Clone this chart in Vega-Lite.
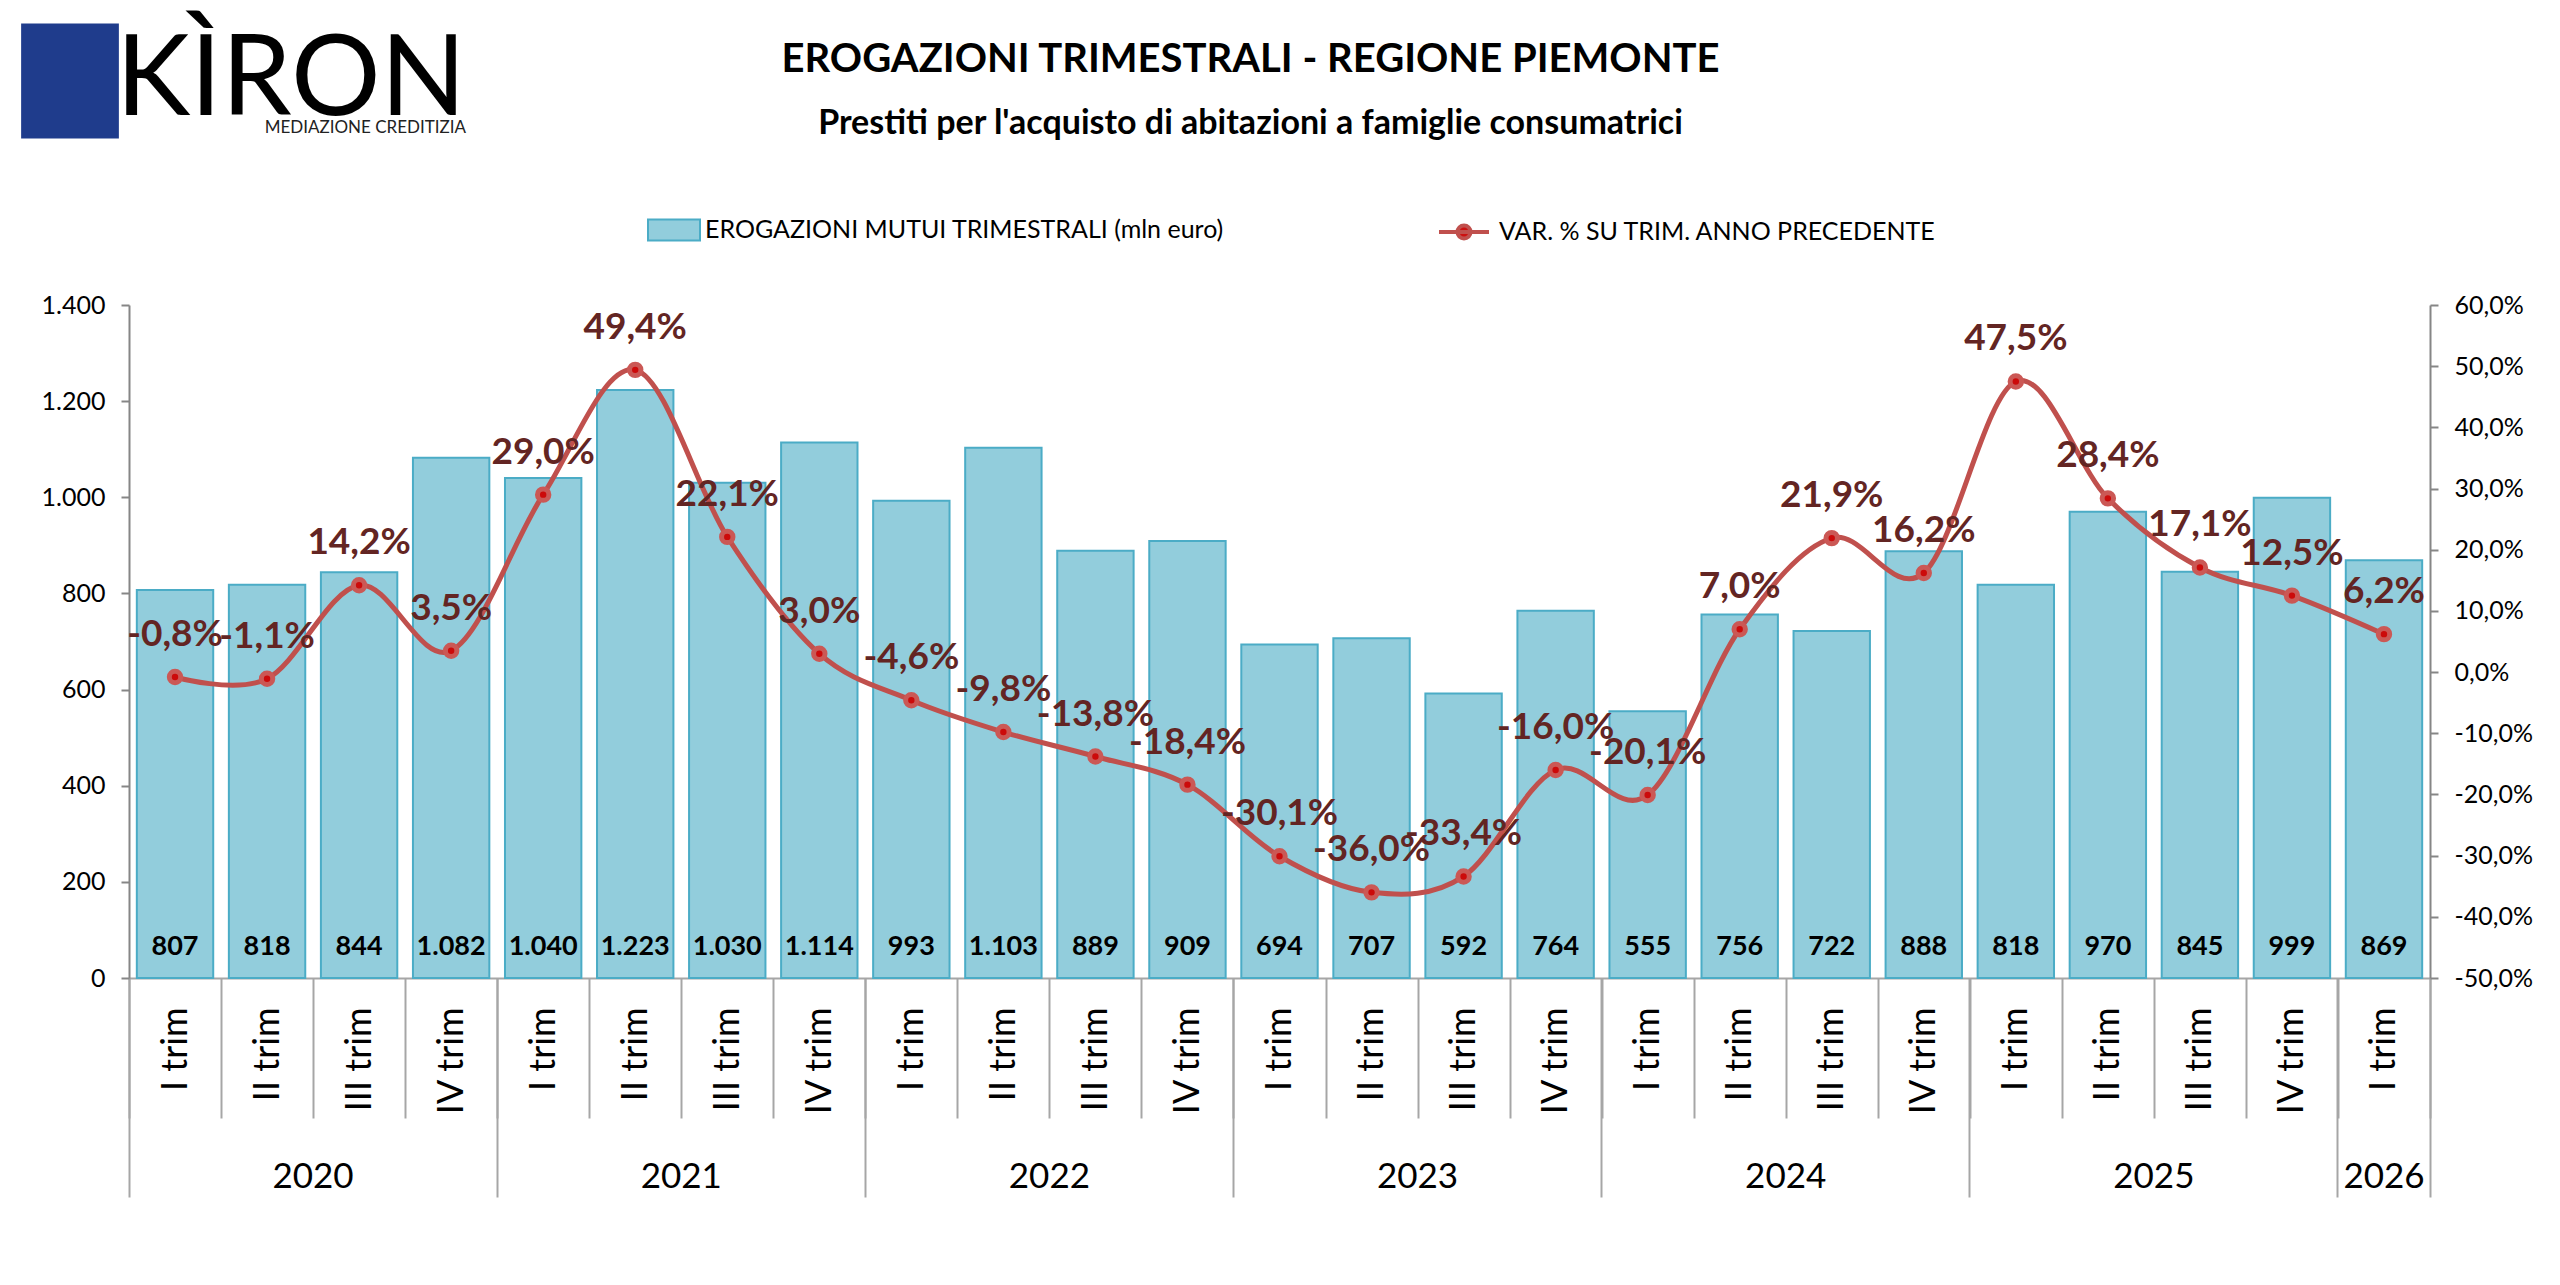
{
  "$schema": "https://vega.github.io/schema/vega-lite/v6.json",
  "width": 2301,
  "height": 673,
  "autosize": "none",
  "padding": {"left": 129, "top": 305, "right": 130, "bottom": 307},
  "background": "white",
  "title": {
    "text": "EROGAZIONI TRIMESTRALI - REGIONE PIEMONTE",
    "subtitle": "Prestiti per l'acquisto di abitazioni a famiglie consumatrici",
    "font": "Lato",
    "fontSize": 40,
    "fontWeight": "bold",
    "color": "#000000",
    "subtitleFont": "Lato",
    "subtitleFontSize": 34,
    "subtitleFontWeight": "bold",
    "subtitleColor": "#000000",
    "subtitlePadding": 27,
    "anchor": "middle",
    "frame": "group",
    "offset": -118,
    "dx": -29,
    "limit": 2000
  },
  "data": {
    "values": [
      {"k": "2020|I trim", "erog": 807, "var": -0.008},
      {"k": "2020|II trim", "erog": 818, "var": -0.011},
      {"k": "2020|III trim", "erog": 844, "var": 0.142},
      {"k": "2020|IV trim", "erog": 1082, "var": 0.035},
      {"k": "2021|I trim", "erog": 1040, "var": 0.290},
      {"k": "2021|II trim", "erog": 1223, "var": 0.494},
      {"k": "2021|III trim", "erog": 1030, "var": 0.221},
      {"k": "2021|IV trim", "erog": 1114, "var": 0.030},
      {"k": "2022|I trim", "erog": 993, "var": -0.046},
      {"k": "2022|II trim", "erog": 1103, "var": -0.098},
      {"k": "2022|III trim", "erog": 889, "var": -0.138},
      {"k": "2022|IV trim", "erog": 909, "var": -0.184},
      {"k": "2023|I trim", "erog": 694, "var": -0.301},
      {"k": "2023|II trim", "erog": 707, "var": -0.360},
      {"k": "2023|III trim", "erog": 592, "var": -0.334},
      {"k": "2023|IV trim", "erog": 764, "var": -0.160},
      {"k": "2024|I trim", "erog": 555, "var": -0.201},
      {"k": "2024|II trim", "erog": 756, "var": 0.070},
      {"k": "2024|III trim", "erog": 722, "var": 0.219},
      {"k": "2024|IV trim", "erog": 888, "var": 0.162},
      {"k": "2025|I trim", "erog": 818, "var": 0.475},
      {"k": "2025|II trim", "erog": 970, "var": 0.284},
      {"k": "2025|III trim", "erog": 845, "var": 0.171},
      {"k": "2025|IV trim", "erog": 999, "var": 0.125},
      {"k": "2026|I trim", "erog": 869, "var": 0.062}
    ]
  },
  "layer": [
    {
      "mark": {"type": "bar", "width": {"band": 0.83}, "stroke": "#4BACC6", "strokeWidth": 2},
      "encoding": {
        "x": {
          "field": "k", "type": "ordinal", "sort": null,
          "scale": {"paddingInner": 0, "paddingOuter": 0},
          "axis": {
            "orient": "bottom", "title": null,
            "labelExpr": "split(datum.value, '|')[1]",
            "labelAngle": 270, "labelAlign": "right", "labelBaseline": "middle",
            "labelFont": "Lato", "labelFontSize": 36, "labelColor": "#000000",
            "labelPadding": -111, "labelOverlap": false,
            "tickBand": "extent", "tickSize": 140, "tickColor": "#A6A6A6", "tickWidth": 2,
            "domainColor": "#A6A6A6", "domainWidth": 2, "grid": false
          }
        },
        "y": {
          "field": "erog", "type": "quantitative",
          "scale": {"domain": [0, 1400], "nice": false},
          "axis": {
            "orient": "left", "title": null,
            "values": [0, 200, 400, 600, 800, 1000, 1200, 1400],
            "format": ",d", "labelFont": "Lato", "labelFontSize": 25, "labelColor": "#000000",
            "labelPadding": 16, "tickSize": 8, "tickColor": "#868686", "tickWidth": 2,
            "domainColor": "#868686", "domainWidth": 2, "grid": false
          }
        },
        "fill": {
          "datum": "EROGAZIONI MUTUI TRIMESTRALI (mln euro)",
          "scale": {"range": ["#92CDDC"]},
          "legend": {
            "orient": "none", "legendX": 518, "legendY": -102, "title": null,
            "symbolType": "M-1,-0.4H1V0.4H-1Z", "symbolSize": 2704,
            "symbolStrokeColor": "#4BACC6", "symbolStrokeWidth": 2,
            "labelFont": "Lato", "labelFontSize": 25, "labelColor": "#000000", "labelOffset": 4, "labelLimit": 1000
          }
        }
      }
    },
    {
      "mark": {"type": "text", "font": "Lato", "fontWeight": "bold", "fontSize": 27, "color": "#000000", "baseline": "middle", "dy": -31},
      "encoding": {
        "x": {
          "field": "k", "type": "ordinal", "sort": null,
          "axis": {
            "orient": "bottom", "title": null,
            "values": ["2020|I trim", "2021|I trim", "2022|I trim", "2023|I trim", "2024|I trim", "2025|I trim", "2026|I trim"],
            "bandPosition": 0, "labels": false, "ticks": true,
            "tickSize": 219, "tickColor": "#A6A6A6", "tickWidth": 2, "domain": false, "grid": false
          }
        },
        "y": {"datum": 0, "type": "quantitative", "scale": {"domain": [0, 1400], "nice": false}, "axis": null},
        "text": {"field": "erog", "type": "quantitative", "format": ",d"}
      }
    },
    {
      "mark": {"type": "line", "interpolate": "cardinal", "strokeWidth": 5},
      "encoding": {
        "x": {
          "field": "k", "type": "ordinal", "sort": null,
          "axis": {
            "orient": "bottom", "title": null,
            "values": ["2020|II trim", "2021|II trim", "2022|II trim", "2023|II trim", "2024|II trim", "2025|II trim"],
            "labelExpr": "split(datum.value, '|')[0]",
            "labelOffset": 46, "ticks": false, "domain": false, "grid": false,
            "labelAngle": 0, "labelAlign": "center", "labelBaseline": "top",
            "labelFont": "Lato", "labelFontSize": 35, "labelColor": "#000000", "labelPadding": 181
          }
        },
        "y": {
          "field": "var", "type": "quantitative",
          "scale": {"domain": [-0.5, 0.6], "nice": false, "zero": false},
          "axis": {
            "orient": "right", "title": null,
            "values": [-0.5, -0.4, -0.3, -0.2, -0.1, 0, 0.1, 0.2, 0.3, 0.4, 0.5, 0.6],
            "format": ".1%", "labelFont": "Lato", "labelFontSize": 25, "labelColor": "#000000",
            "labelPadding": 16, "tickSize": 8, "tickColor": "#868686", "tickWidth": 2,
            "domainColor": "#868686", "domainWidth": 2, "grid": false
          }
        },
        "stroke": {
          "datum": "VAR. % SU TRIM. ANNO PRECEDENTE",
          "scale": {"range": ["#C0504D"]},
          "legend": {
            "orient": "none", "legendX": 1308, "legendY": -100, "title": null,
            "symbolType": "M-1,0H1M-0.26,0A0.26,0.26 0 1,0 0.26,0A0.26,0.26 0 1,0 -0.26,0Z",
            "symbolSize": 2500, "symbolStrokeWidth": 4, "symbolFillColor": "#CC1010",
            "labelFont": "Lato", "labelFontSize": 25, "labelColor": "#000000", "labelOffset": 8, "labelLimit": 1000
          }
        }
      }
    },
    {
      "mark": {"type": "point", "filled": true, "fill": "#CC0A0A", "stroke": "#CB5855", "strokeWidth": 5, "size": 130, "opacity": 1},
      "encoding": {
        "x": {
          "field": "k", "type": "ordinal", "sort": null,
          "axis": {
            "orient": "bottom", "title": null,
            "values": ["2026|I trim"],
            "labelExpr": "split(datum.value, '|')[0]",
            "ticks": false, "domain": false, "grid": false,
            "labelAngle": 0, "labelAlign": "center", "labelBaseline": "top",
            "labelFont": "Lato", "labelFontSize": 35, "labelColor": "#000000", "labelPadding": 181
          }
        },
        "y": {"field": "var", "type": "quantitative", "scale": {"domain": [-0.5, 0.6], "nice": false, "zero": false}, "axis": null}
      }
    },
    {
      "mark": {"type": "text", "font": "Lato", "fontWeight": "bold", "fontSize": 37, "color": "#632523", "baseline": "middle", "dy": -42},
      "encoding": {
        "x": {
          "field": "k", "type": "ordinal", "sort": null,
          "axis": {
            "orient": "bottom", "title": null,
            "values": ["2026|I trim"],
            "bandPosition": 1, "labels": false, "ticks": true,
            "tickSize": 219, "tickColor": "#A6A6A6", "tickWidth": 2, "domain": false, "grid": false
          }
        },
        "y": {"field": "var", "type": "quantitative", "scale": {"domain": [-0.5, 0.6], "nice": false, "zero": false}, "axis": null},
        "text": {"field": "var", "type": "quantitative", "format": ".1%"}
      }
    },
    {
      "mark": {"type": "point", "filled": true, "color": "#1F3C8C", "size": 0},
      "encoding": {
        "x": {"field": "k", "type": "ordinal", "sort": null, "axis": null},
        "y": {"datum": 0, "type": "quantitative", "scale": {"domain": [0, 1400], "nice": false}, "axis": null},
        "opacity": {
          "datum": "KÌRON",
          "scale": {"range": [1, 1]},
          "legend": {
            "orient": "none", "legendX": -117, "legendY": -282,
            "title": "MEDIAZIONE CREDITIZIA", "titleOrient": "bottom", "titleAnchor": "end",
            "titleFont": "Lato", "titleFontSize": 17, "titleFontWeight": "normal", "titleColor": "#222222", "titlePadding": -21, "titleLimit": 1000,
            "symbolType": "M-0.85,-1H0.85V1H-0.85Z", "symbolSize": 13225,
            "symbolFillColor": "#1F3C8C", "symbolStrokeColor": "#1F3C8C", "symbolStrokeWidth": 1,
            "labelFont": "Lato", "labelFontSize": 112, "labelColor": "#000000", "labelOffset": -12, "labelLimit": 1000,
            "encode": {"labels": {"update": {"dy": {"value": -7}}}}
          }
        }
      }
    }
  ],
  "resolve": {
    "scale": {"y": "independent"},
    "axis": {"x": "independent", "y": "independent"}
  },
  "config": {
    "locale": {
      "number": {"decimal": ",", "thousands": ".", "grouping": [3], "currency": ["", " €"], "minus": "-"}
    },
    "view": {"stroke": null}
  }
}
